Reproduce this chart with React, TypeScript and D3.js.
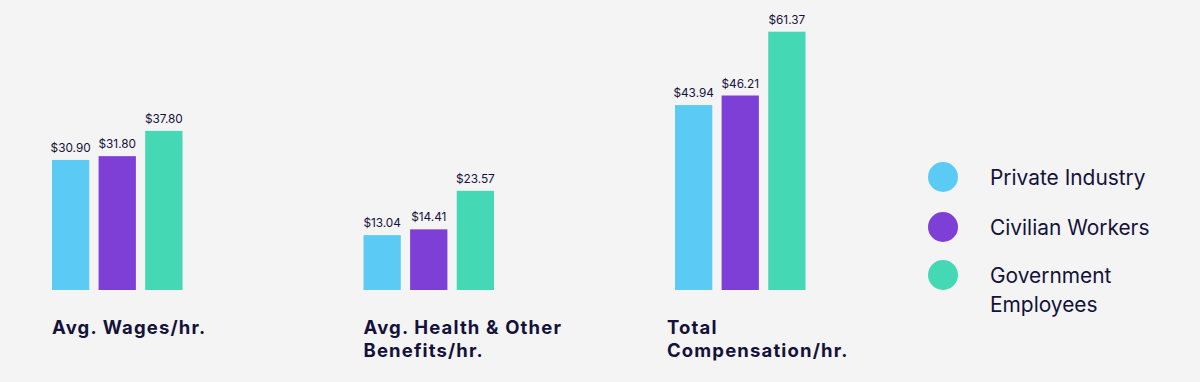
import React from "react";
import * as d3 from "d3";

const categories: string[][] = [
  ["Avg. Wages/hr."],
  ["Avg. Health & Other", "Benefits/hr."],
  ["Total", "Compensation/hr."],
];
const seriesNames: string[][] = [
  ["Private Industry"],
  ["Civilian Workers"],
  ["Government", "Employees"],
];
const privateIndustry = [30.9, 13.04, 43.94];
const civilianWorkers = [31.8, 14.41, 46.21];
const governmentEmployees = [37.8, 23.57, 61.37];
const colors = ["#5bcbf5", "#7e3fd6", "#45d8b4"];

const W = 1200;
const H = 382;
const FONT = "Inter, 'Noto Sans', sans-serif";
const INK = "#14123a";
const titleShift = [0, 0, -8];

export default function App() {
  const series = [privateIndustry, civilianWorkers, governmentEmployees];
  const baseline = 290;
  const y = d3.scaleLinear().domain([0, 68.9]).range([baseline, 0]);
  const x0 = d3
    .scaleBand<number>()
    .domain(d3.range(categories.length))
    .range([52, 52 + 311.5 * 3])
    .paddingInner(0)
    .paddingOuter(0);
  const x1 = d3
    .scaleBand<number>()
    .domain(d3.range(series.length))
    .range([0, 130.5])
    .paddingInner(0.2)
    .paddingOuter(0);

  return (
    <div style={{ position: "fixed", left: 0, top: 0, width: W, height: H }}>
      <svg width={W} height={H} style={{ display: "block" }}>
        <rect width={W} height={H} fill="#f4f4f5" />
        {categories.map((cat, ci) => (
          <g key={ci} transform={`translate(${x0(ci)},0)`}>
            {series.map((s, si) => {
              const v = s[ci];
              const bx = x1(si)!;
              const bw = x1.bandwidth();
              return (
                <g key={si}>
                  <rect
                    x={bx}
                    y={y(v)}
                    width={bw}
                    height={baseline - y(v)}
                    fill={colors[si]}
                  />
                  <text
                    x={bx + bw / 2}
                    y={y(v) - 8}
                    textAnchor="middle"
                    fontFamily={FONT}
                    fontSize={11.8}
                    fill={INK}
                  >
                    {"$" + v.toFixed(2)}
                  </text>
                </g>
              );
            })}
            {cat.map((line, li) => (
              <text
                key={li}
                x={titleShift[ci]}
                y={334 + li * 22.6}
                fontFamily={FONT}
                fontWeight={700}
                fontSize={18.5}
                letterSpacing={1.15}
                fill={INK}
              >
                {line}
              </text>
            ))}
          </g>
        ))}
        {seriesNames.map((name, si) => {
          const cy = [177, 227, 275][si];
          return (
            <g key={si}>
              <circle cx={943} cy={cy} r={15} fill={colors[si]} />
              <text
                x={990}
                y={cy + 7.5}
                fontFamily={FONT}
                fontSize={20.9}
                fill={INK}
              >
                {name.map((line, li) => (
                  <tspan key={li} x={990} dy={li === 0 ? 0 : 29}>
                    {line}
                  </tspan>
                ))}
              </text>
            </g>
          );
        })}
      </svg>
    </div>
  );
}
